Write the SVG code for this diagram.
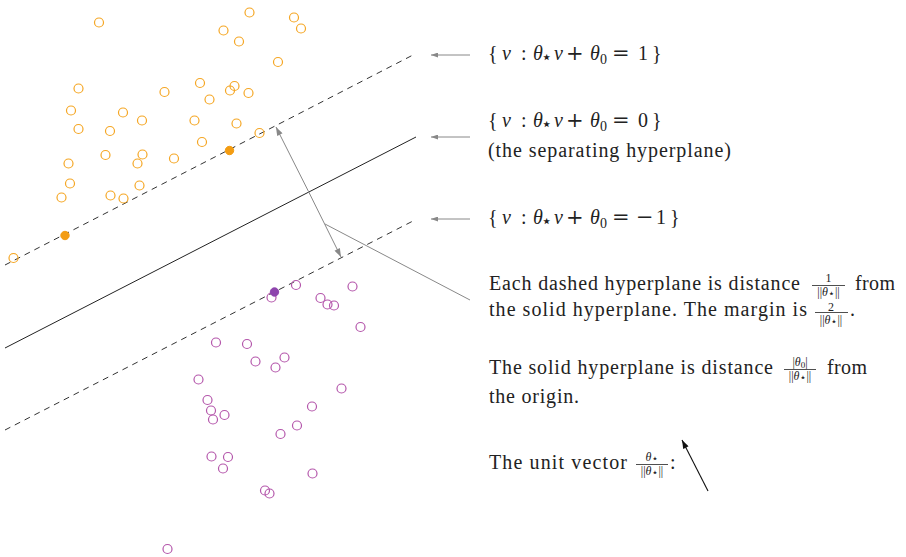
<svg xmlns="http://www.w3.org/2000/svg" width="906" height="557" viewBox="0 0 906 557">
<defs>
<style>
.t{font-family:"Liberation Serif","DejaVu Serif",serif;font-size:20px;fill:#222}
.it{font-style:italic}
.op{font-family:"DejaVu Serif",serif;font-size:21px}
.sm{font-family:"Liberation Serif","DejaVu Serif",serif;font-size:12px;fill:#222}
.sub{font-family:"DejaVu Sans",sans-serif;font-size:18px}
.subs{font-family:"DejaVu Sans",sans-serif;font-size:11px}
.sub0{font-size:14px}
.po{fill:none;stroke:#f5a623;stroke-width:1.2}
.pf{fill:#f39c12;stroke:#f39c12;stroke-width:1}
.pp{fill:none;stroke:#b456ab;stroke-width:1.2}
.ppf{fill:#8e44ad;stroke:#8e44ad;stroke-width:1}
.dash{stroke:#333;stroke-width:1;stroke-dasharray:6 5;fill:none}
.solid{stroke:#222;stroke-width:1;fill:none}
.gray{stroke:#888;stroke-width:1;fill:none}
.bar{stroke:#222;stroke-width:0.8}
</style>
<marker id="ag" viewBox="0 0 10 7" refX="10" refY="3.5" markerWidth="9" markerHeight="6" markerUnits="userSpaceOnUse" orient="auto-start-reverse"><path d="M0,0 L10,3.5 L0,7 z" fill="#888"/></marker>
<marker id="ags" viewBox="0 0 10 7" refX="10" refY="3.5" markerWidth="7" markerHeight="5" markerUnits="userSpaceOnUse" orient="auto"><path d="M0,0 L10,3.5 L0,7 z" fill="#888"/></marker>
<marker id="ab" viewBox="0 0 10 7" refX="10" refY="3.5" markerWidth="9" markerHeight="6" markerUnits="userSpaceOnUse" orient="auto"><path d="M0,0 L10,3.5 L0,7 z" fill="#111"/></marker>
</defs>
<rect width="906" height="557" fill="#fff"/>

<g id="hyperplanes">
<line class="dash" x1="5" y1="265" x2="413" y2="55"/>
<line class="solid" x1="5" y1="348" x2="416" y2="137"/>
<line class="dash" x1="5" y1="430" x2="413" y2="221"/>
</g>

<g id="orange-points">
<circle class="po" cx="99" cy="22.5" r="4.5"/>
<circle class="po" cx="249.5" cy="12.5" r="4.5"/>
<circle class="po" cx="294" cy="17.5" r="4.5"/>
<circle class="po" cx="301" cy="28.5" r="4.5"/>
<circle class="po" cx="223.5" cy="30.5" r="4.5"/>
<circle class="po" cx="239" cy="41.5" r="4.5"/>
<circle class="po" cx="278" cy="62" r="4.5"/>
<circle class="po" cx="78.5" cy="88.5" r="4.5"/>
<circle class="po" cx="200" cy="83" r="4.5"/>
<circle class="po" cx="164.5" cy="92" r="4.5"/>
<circle class="po" cx="234.5" cy="86" r="4.5"/>
<circle class="po" cx="230" cy="90.5" r="4.5"/>
<circle class="po" cx="248.5" cy="93" r="4.5"/>
<circle class="po" cx="209.5" cy="99.5" r="4.5"/>
<circle class="po" cx="71" cy="110.5" r="4.5"/>
<circle class="po" cx="123" cy="112.5" r="4.5"/>
<circle class="po" cx="142" cy="120.5" r="4.5"/>
<circle class="po" cx="194.5" cy="120.5" r="4.5"/>
<circle class="po" cx="236.5" cy="123.5" r="4.5"/>
<circle class="po" cx="78.5" cy="129" r="4.5"/>
<circle class="po" cx="110" cy="131" r="4.5"/>
<circle class="po" cx="259.5" cy="133" r="4.5"/>
<circle class="po" cx="202" cy="142" r="4.5"/>
<circle class="po" cx="105.5" cy="155" r="4.5"/>
<circle class="po" cx="142.5" cy="154.5" r="4.5"/>
<circle class="po" cx="137.5" cy="163.5" r="4.5"/>
<circle class="po" cx="174" cy="158.5" r="4.5"/>
<circle class="po" cx="68.5" cy="163.5" r="4.5"/>
<circle class="po" cx="70" cy="183.5" r="4.5"/>
<circle class="po" cx="139.5" cy="185.5" r="4.5"/>
<circle class="po" cx="61.5" cy="197.5" r="4.5"/>
<circle class="po" cx="110.5" cy="195.5" r="4.5"/>
<circle class="po" cx="123.5" cy="198.5" r="4.5"/>
<circle class="po" cx="13.5" cy="258" r="4.5"/>
<circle class="pf" cx="229.5" cy="150.5" r="4.2"/>
<circle class="pf" cx="65" cy="235.5" r="4.2"/>
</g>

<g id="purple-points">
<circle class="pp" cx="296" cy="285" r="4.5"/>
<circle class="pp" cx="352.5" cy="286.5" r="4.5"/>
<circle class="pp" cx="271.5" cy="297.5" r="4.5"/>
<circle class="pp" cx="320.5" cy="298" r="4.5"/>
<circle class="pp" cx="327.5" cy="304.5" r="4.5"/>
<circle class="pp" cx="334" cy="305.5" r="4.5"/>
<circle class="pp" cx="360.5" cy="327" r="4.5"/>
<circle class="pp" cx="216" cy="342.5" r="4.5"/>
<circle class="pp" cx="247" cy="344" r="4.5"/>
<circle class="pp" cx="255.5" cy="361.5" r="4.5"/>
<circle class="pp" cx="284.5" cy="357.5" r="4.5"/>
<circle class="pp" cx="275.5" cy="367.5" r="4.5"/>
<circle class="pp" cx="198.5" cy="379.5" r="4.5"/>
<circle class="pp" cx="341.5" cy="388.5" r="4.5"/>
<circle class="pp" cx="207.5" cy="400" r="4.5"/>
<circle class="pp" cx="211" cy="410.5" r="4.5"/>
<circle class="pp" cx="213" cy="419.5" r="4.5"/>
<circle class="pp" cx="224.5" cy="415" r="4.5"/>
<circle class="pp" cx="312" cy="406.5" r="4.5"/>
<circle class="pp" cx="297" cy="425.5" r="4.5"/>
<circle class="pp" cx="280.5" cy="434" r="4.5"/>
<circle class="pp" cx="211.5" cy="456.5" r="4.5"/>
<circle class="pp" cx="228" cy="457" r="4.5"/>
<circle class="pp" cx="223" cy="468.5" r="4.5"/>
<circle class="pp" cx="312.5" cy="473.5" r="4.5"/>
<circle class="pp" cx="265" cy="490.5" r="4.5"/>
<circle class="pp" cx="269.5" cy="493.5" r="4.5"/>
<circle class="pp" cx="167.5" cy="549" r="4.5"/>
<circle class="ppf" cx="274.5" cy="292" r="4.2"/>
</g>

<g id="connectors">
<line class="gray" x1="308.5" y1="191.5" x2="276" y2="127" marker-end="url(#ag)"/>
<line class="gray" x1="308.5" y1="191.5" x2="341" y2="257" marker-end="url(#ag)"/>
<line class="gray" x1="325" y1="224" x2="470" y2="300"/>
<line class="gray" x1="470" y1="55" x2="431" y2="55" marker-end="url(#ags)"/>
<line class="gray" x1="470" y1="137" x2="431" y2="137" marker-end="url(#ags)"/>
<line class="gray" x1="470" y1="219" x2="431" y2="219" marker-end="url(#ags)"/>
<line stroke="#111" stroke-width="1.1" x1="708" y1="491" x2="682" y2="440" marker-end="url(#ab)"/>
</g>

<g id="label-plus1">
<text class="t" y="60"><tspan x="488">{</tspan><tspan x="502" class="it">v</tspan><tspan x="521">:</tspan><tspan x="533" class="it">θ</tspan><tspan x="541" dy="3" class="sub">⋆</tspan><tspan x="554" dy="-3" class="it">v</tspan><tspan x="566" class="op">+</tspan><tspan x="590" class="it">θ</tspan><tspan x="600" dy="4" class="sub0">0</tspan><tspan x="612" dy="-4" class="op">=</tspan><tspan x="638">1</tspan><tspan x="652">}</tspan></text>
</g>

<g id="label-zero">
<text class="t" y="127"><tspan x="488">{</tspan><tspan x="502" class="it">v</tspan><tspan x="521">:</tspan><tspan x="533" class="it">θ</tspan><tspan x="541" dy="3" class="sub">⋆</tspan><tspan x="554" dy="-3" class="it">v</tspan><tspan x="566" class="op">+</tspan><tspan x="590" class="it">θ</tspan><tspan x="600" dy="4" class="sub0">0</tspan><tspan x="612" dy="-4" class="op">=</tspan><tspan x="638">0</tspan><tspan x="652">}</tspan></text>
<text class="t" x="488" y="157" textLength="243" lengthAdjust="spacing">(the separating hyperplane)</text>
</g>

<g id="label-minus1">
<text class="t" y="224"><tspan x="488">{</tspan><tspan x="502" class="it">v</tspan><tspan x="521">:</tspan><tspan x="533" class="it">θ</tspan><tspan x="541" dy="3" class="sub">⋆</tspan><tspan x="554" dy="-3" class="it">v</tspan><tspan x="566" class="op">+</tspan><tspan x="590" class="it">θ</tspan><tspan x="600" dy="4" class="sub0">0</tspan><tspan x="612" dy="-4" class="op">=</tspan><tspan x="636" class="op">−</tspan><tspan x="656">1</tspan><tspan x="670">}</tspan></text>
</g>

<g id="note-margin">
<text class="t" x="489" y="290" textLength="311" lengthAdjust="spacing">Each dashed hyperplane is distance</text>
<text class="sm" x="828.5" y="282" text-anchor="middle">1</text>
<line class="bar" x1="812" y1="285.5" x2="845" y2="285.5"/>
<text class="sm" x="828.5" y="295.5" text-anchor="middle">||<tspan class="it">θ</tspan><tspan class="subs" dy="1">⋆</tspan><tspan dy="-1">||</tspan></text>
<text class="t" x="855" y="290" textLength="40" lengthAdjust="spacing">from</text>
<text class="t" x="489" y="316" textLength="318" lengthAdjust="spacing">the solid hyperplane. The margin is</text>
<text class="sm" x="831" y="310.5" text-anchor="middle">2</text>
<line class="bar" x1="815" y1="312.5" x2="848" y2="312.5"/>
<text class="sm" x="831" y="323.5" text-anchor="middle">||<tspan class="it">θ</tspan><tspan class="subs" dy="1">⋆</tspan><tspan dy="-1">||</tspan></text>
<text class="t" x="850" y="316">.</text>
</g>

<g id="note-origin">
<text class="t" x="489" y="374" textLength="284" lengthAdjust="spacing">The solid hyperplane is distance</text>
<text class="sm" x="800" y="366" text-anchor="middle">|<tspan class="it">θ</tspan><tspan dy="2" font-size="9">0</tspan><tspan dy="-2">|</tspan></text>
<line class="bar" x1="784" y1="369.5" x2="816" y2="369.5"/>
<text class="sm" x="800" y="380" text-anchor="middle">||<tspan class="it">θ</tspan><tspan class="subs" dy="1">⋆</tspan><tspan dy="-1">||</tspan></text>
<text class="t" x="827" y="374" textLength="40" lengthAdjust="spacing">from</text>
<text class="t" x="489" y="403" textLength="90" lengthAdjust="spacing">the origin.</text>
</g>

<g id="note-unit">
<text class="t" x="489" y="469" textLength="138" lengthAdjust="spacing">The unit vector</text>
<text class="sm" x="652" y="461" text-anchor="middle"><tspan class="it">θ</tspan><tspan class="subs" dy="1">⋆</tspan></text>
<line class="bar" x1="636" y1="464.5" x2="668" y2="464.5"/>
<text class="sm" x="652" y="475" text-anchor="middle">||<tspan class="it">θ</tspan><tspan class="subs" dy="1">⋆</tspan><tspan dy="-1">||</tspan></text>
<text class="t" x="670" y="469">:</text>
</g>
</svg>
